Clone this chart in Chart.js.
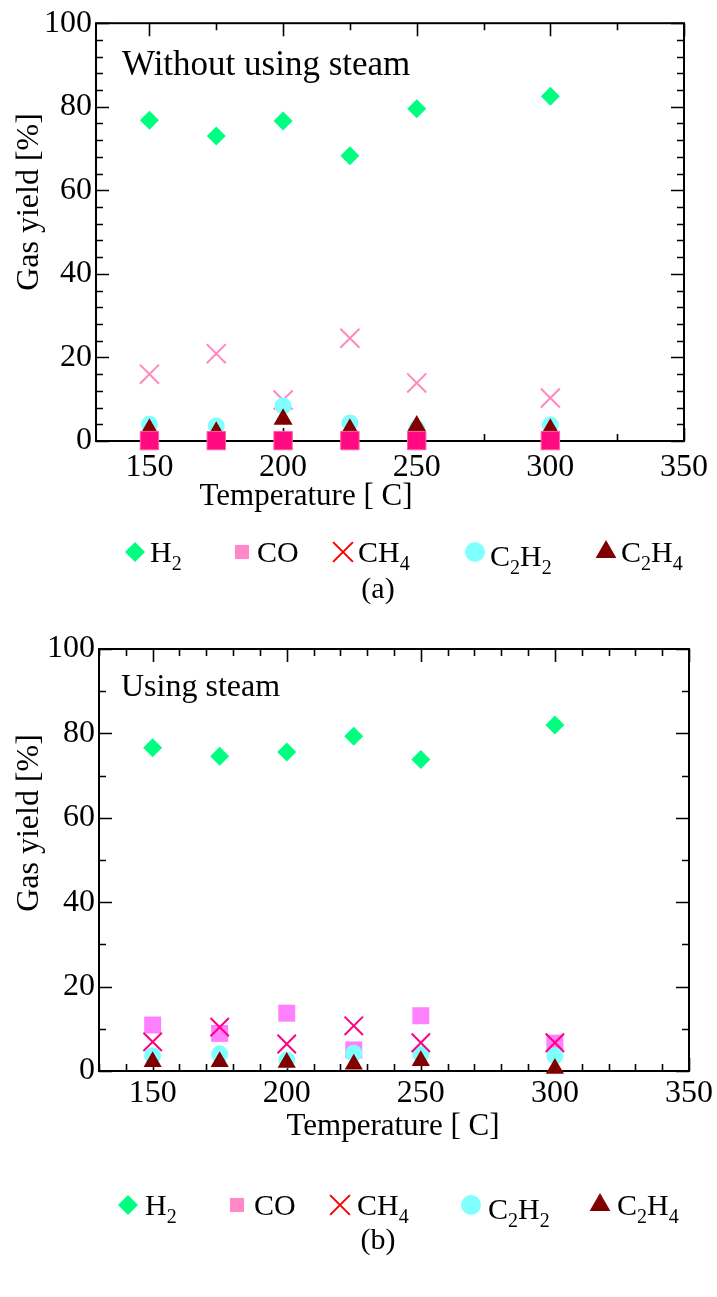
<!DOCTYPE html>
<html>
<head>
<meta charset="utf-8">
<script src="https://cdn.jsdelivr.net/npm/chart.js"></script>
<style>
  html, body { margin: 0; padding: 0; background: #fff; }
  body { width: 717px; height: 1297px; position: relative; overflow: hidden; }
  .panel { position: absolute; left: 0; width: 717px; }
  #panelA { top: 0; height: 620px; }
  #panelB { top: 620px; height: 677px; }
  canvas { display: block; }
</style>
</head>
<body>
<div class="panel" id="panelA"><canvas id="chartA"></canvas></div>
<div class="panel" id="panelB"><canvas id="chartB"></canvas></div>
<script>
// ---- data ----
const temperatures = [150, 175, 200, 225, 250, 300];
const xTickValues = [150, 200, 250, 300, 350];
const yTickValues = [0, 20, 40, 60, 80, 100];
const seriesNames = ['H_2', 'CO', 'CH_4', 'C_2H_2', 'C_2H_4'];

// (a) without steam, gas yield [%]
const h2NoSteam   = [76.8, 73.0, 76.6, 68.3, 79.5, 82.5];
const coNoSteam   = [0.1, 0.1, 0.1, 0.1, 0.1, 0.1];
const ch4NoSteam  = [16.0, 20.9, 9.8, 24.6, 13.9, 10.3];
const c2h2NoSteam = [4.0, 3.6, 8.4, 4.3, 3.0, 3.8];
const c2h4NoSteam = [2.8, 2.1, 5.2, 2.8, 3.6, 2.8];

// (b) using steam, gas yield [%]
const h2Steam   = [76.6, 74.6, 75.6, 79.3, 73.8, 82.0];
const coSteam   = [10.9, 8.9, 13.7, 5.0, 13.1, 6.6];
const ch4Steam  = [6.9, 10.4, 6.4, 10.7, 6.7, 6.7];
const c2h2Steam = [3.6, 4.0, 2.6, 4.2, 4.0, 3.6];
const c2h4Steam = [2.2, 2.2, 2.0, 1.6, 2.4, 0.6];

const xTitleText = 'Temperature [ C]';
const yTitleText = 'Gas yield [%]';

// ---- styles ----
const SERIF = '"Liberation Serif", "Times New Roman", Times, serif';
const X_MIN = 130, X_MAX = 350, Y_MIN = 0, Y_MAX = 100;

const legendMarkers = [
  { pointStyle: 'rectRot',  radius: 10, fill: '#00ff80', stroke: '#00ff80', borderWidth: 0 },
  { pointStyle: 'rect',     radius: 10, fill: '#ff88c8', stroke: '#ff88c8', borderWidth: 0 },
  { pointStyle: 'crossRot', radius: 14, fill: '#ff0000', stroke: '#ff0000', borderWidth: 2 },
  { pointStyle: 'circle',   radius: 10, fill: '#80ffff', stroke: '#80ffff', borderWidth: 0 },
  { pointStyle: 'triangle', radius: 12, fill: '#800000', stroke: '#800000', borderWidth: 0 }
];

function marker(style, radius, fill, stroke, borderWidth, order) {
  return {
    pointStyle: style, pointRadius: radius, pointHoverRadius: radius,
    backgroundColor: fill, borderColor: stroke, pointBorderWidth: borderWidth,
    borderWidth: borderWidth, order: order, clip: false, showLine: false
  };
}

function series(label, values, style) {
  return Object.assign({ label, data: temperatures.map((t, i) => ({ x: t, y: values[i] })) }, style);
}

const datasetsA = [
  series('CO',   coNoSteam,   marker('rect',     13,  '#ff0a80', '#ff60a8', 1, 0)),
  series('C2H4', c2h4NoSteam, marker('triangle', 11,  '#800000', '#800000', 0, 1)),
  series('C2H2', c2h2NoSteam, marker('circle',   8.5, '#80ffff', '#80ffff', 0, 2)),
  series('CH4',  ch4NoSteam,  marker('crossRot', 13.5,'#ff88c0', '#ff88c0', 2, 3)),
  series('H2',   h2NoSteam,   marker('rectRot',  9.5, '#00ff80', '#00ff80', 0, 4))
];

const datasetsB = [
  series('C2H4', c2h4Steam, marker('triangle', 10.5,'#800000', '#800000', 0, 0)),
  series('CH4',  ch4Steam,  marker('crossRot', 13,  '#ff0080', '#ff0080', 2, 1)),
  series('C2H2', c2h2Steam, marker('circle',   8.5, '#80ffff', '#80ffff', 0, 2)),
  series('CO',   coSteam,   marker('rect',     12,  '#ff80ff', '#ff80ff', 0, 3)),
  series('H2',   h2Steam,   marker('rectRot',  9.5, '#00ff80', '#00ff80', 0, 4))
];

// ---- page layout for each panel ----
const layoutA = {
  padding: { top: 20, left: 0, right: 33, bottom: 0 },
  yAxisWidth: 96, xAxisHeight: 179, xTickPad: 7,
  xMinor: 25, xMajor: 50, yMinor: 4, yMajor: 20,
  note: { text: 'Without using steam', x: 122, y: 75, size: 35 },
  xTitle: { x: 306, y: 497, size: 31 },
  yTitle: { x: 30, y: 202, size: 32 },
  legend: { y: 552, markerX: [135, 242, 343, 475, 606], gap: 15, size: 30, dy: [0, 0, 0, 4, 0] },
  caption: { text: '(a)', x: 378, y: 590, size: 30 }
};

const layoutB = {
  padding: { top: 29, left: 0, right: 28, bottom: 0 },
  yAxisWidth: 99, xAxisHeight: 226, xTickPad: 3,
  xMinor: 10, xMajor: 50, yMinor: 10, yMajor: 20,
  note: { text: 'Using steam', x: 121, y: 76, size: 32 },
  xTitle: { x: 393, y: 507, size: 31 },
  yTitle: { x: 30, y: 203, size: 32 },
  legend: { y: 585, markerX: [128, 237, 340, 471, 600], gap: 17, size: 30, dy: [0, 0, 0, 4, 0] },
  caption: { text: '(b)', x: 378, y: 621, size: 30 }
};

// ---- drawing helpers ----
function parseRuns(name) {
  const runs = [];
  name.split(/(_\d)/).forEach(p => {
    if (!p) return;
    if (p[0] === '_') runs.push({ t: p.slice(1), sub: true });
    else runs.push({ t: p, sub: false });
  });
  return runs;
}

function drawRich(ctx, name, x, y, size) {
  let cx = x;
  ctx.textAlign = 'left';
  ctx.textBaseline = 'alphabetic';
  parseRuns(name).forEach(r => {
    const s = r.sub ? Math.round(size * 0.68) : size;
    ctx.font = s + 'px ' + SERIF;
    ctx.fillText(r.t, cx, r.sub ? y + size * 0.27 : y);
    cx += ctx.measureText(r.t).width;
  });
}

function steps(min, max, step) {
  const out = [];
  for (let v = Math.ceil(min / step) * step; v <= max + 1e-9; v += step) out.push(Math.round(v * 1e6) / 1e6);
  return out;
}

function makeDecor(L) {
  return {
    id: 'decor',
    beforeDatasetsDraw(chart) {
      const { ctx, chartArea: a, scales } = chart;
      const xs = scales.x, ys = scales.y;
      ctx.save();
      ctx.strokeStyle = '#000';
      ctx.lineWidth = 1.6;
      ctx.beginPath();
      steps(xs.min, xs.max, L.xMinor).forEach(v => {
        const px = Math.round(xs.getPixelForValue(v)) + 0.5;
        const len = Math.abs(v % L.xMajor) < 1e-9 ? 13 : 7;
        ctx.moveTo(px, a.bottom); ctx.lineTo(px, a.bottom - len);
        ctx.moveTo(px, a.top);    ctx.lineTo(px, a.top + len);
      });
      steps(ys.min, ys.max, L.yMinor).forEach(v => {
        const py = Math.round(ys.getPixelForValue(v)) + 0.5;
        const len = Math.abs(v % L.yMajor) < 1e-9 ? 13 : 7;
        ctx.moveTo(a.left, py);  ctx.lineTo(a.left + len, py);
        ctx.moveTo(a.right, py); ctx.lineTo(a.right - len, py);
      });
      ctx.stroke();
      ctx.lineWidth = 2;
      ctx.strokeRect(a.left, a.top, a.right - a.left, a.bottom - a.top);
      ctx.restore();
    },
    afterDraw(chart) {
      const ctx = chart.ctx;
      ctx.save();
      ctx.fillStyle = '#000';

      // note inside the plot
      ctx.font = L.note.size + 'px ' + SERIF;
      ctx.textAlign = 'left';
      ctx.textBaseline = 'alphabetic';
      ctx.fillText(L.note.text, L.note.x, L.note.y);

      // axis titles
      ctx.font = L.xTitle.size + 'px ' + SERIF;
      ctx.textAlign = 'center';
      ctx.textBaseline = 'middle';
      ctx.fillText(xTitleText, L.xTitle.x, L.xTitle.y);

      ctx.save();
      ctx.translate(L.yTitle.x, L.yTitle.y);
      ctx.rotate(-Math.PI / 2);
      ctx.font = L.yTitle.size + 'px ' + SERIF;
      ctx.fillText(yTitleText, 0, 0);
      ctx.restore();

      // legend row
      const lg = L.legend;
      seriesNames.forEach((name, i) => {
        const m = legendMarkers[i];
        ctx.save();
        ctx.fillStyle = m.fill;
        ctx.strokeStyle = m.stroke;
        ctx.lineWidth = m.borderWidth || 0;
        Chart.helpers.drawPoint(ctx, { pointStyle: m.pointStyle, radius: m.radius, rotation: 0, borderWidth: m.borderWidth }, lg.markerX[i], lg.y);
        ctx.restore();
        ctx.fillStyle = '#000';
        drawRich(ctx, name, lg.markerX[i] + lg.gap, lg.y + 10 + lg.dy[i], lg.size);
      });

      // caption
      ctx.font = L.caption.size + 'px ' + SERIF;
      ctx.textAlign = 'center';
      ctx.textBaseline = 'middle';
      ctx.fillText(L.caption.text, L.caption.x, L.caption.y);
      ctx.restore();
    }
  };
}

function makeChart(id, datasets, L) {
  return new Chart(document.getElementById(id), {
    type: 'scatter',
    data: { datasets },
    options: {
      responsive: true,
      maintainAspectRatio: false,
      animation: false,
      events: [],
      layout: { autoPadding: false, padding: L.padding },
      plugins: { legend: { display: false }, tooltip: { enabled: false }, title: { display: false } },
      scales: {
        x: {
          type: 'linear', position: 'bottom', min: X_MIN, max: X_MAX,
          grid: { display: false, drawTicks: false, tickLength: 0 },
          border: { display: false },
          ticks: { autoSkip: false, maxRotation: 0, padding: L.xTickPad, color: '#000', font: { family: SERIF, size: 32 } },
          afterBuildTicks: s => { s.ticks = xTickValues.map(value => ({ value })); },
          afterFit: s => { s.height = L.xAxisHeight; }
        },
        y: {
          type: 'linear', position: 'left', min: Y_MIN, max: Y_MAX,
          grid: { display: false, drawTicks: false, tickLength: 0 },
          border: { display: false },
          ticks: { autoSkip: false, padding: 4, color: '#000', font: { family: SERIF, size: 32 } },
          afterBuildTicks: s => { s.ticks = yTickValues.map(value => ({ value })); },
          afterFit: s => { s.width = L.yAxisWidth; }
        }
      }
    },
    plugins: [makeDecor(L)]
  });
}

makeChart('chartA', datasetsA, layoutA);
makeChart('chartB', datasetsB, layoutB);
</script>
</body>
</html>
